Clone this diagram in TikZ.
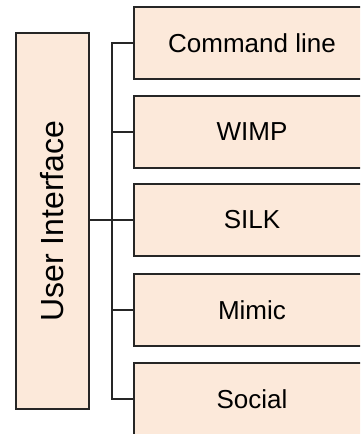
\documentclass[tikz,border=0pt]{standalone}
\usepackage{fontspec}
\setmainfont{Liberation Sans}
\usetikzlibrary{positioning}
\definecolor{peach}{RGB}{252,233,218}

\begin{document}
\begin{tikzpicture}[x=1pt,y=-1pt,
	box/.style={draw=black!85,fill=peach,line width=1.4pt,minimum width=236pt,minimum height=72pt,inner sep=0pt,font=\fontsize{26}{29}\selectfont},
	link/.style={draw=black!85,line width=1.4pt}]
\useasboundingbox (0,0) rectangle (360,434);
\clip (0,0) rectangle (360,434);
\node[box,minimum width=73pt,minimum height=376pt,font=\fontsize{32}{36}\selectfont] (ui) at (52.5,221) {\rotatebox{90}{User Interface}};
\node[box] (cmd) at (252,43) {Command line};
\node[box] (wimp) at (252,132) {WIMP};
\node[box] (silk) at (252,220) {SILK};
\node[box] (mimic) at (252,310) {Mimic};
\node[box] (social) at (252,399) {Social};
\coordinate (j) at (112,220);
\draw [link](ui.east |- j)--(j);
\draw [link](cmd.west) -| (j) |- (social.west);
\draw [link](j |- wimp.west)--(wimp.west);
\draw [link](j |- silk.west)--(silk.west);
\draw [link](j |- mimic.west)--(mimic.west);
	\end{tikzpicture}
\end{document}
